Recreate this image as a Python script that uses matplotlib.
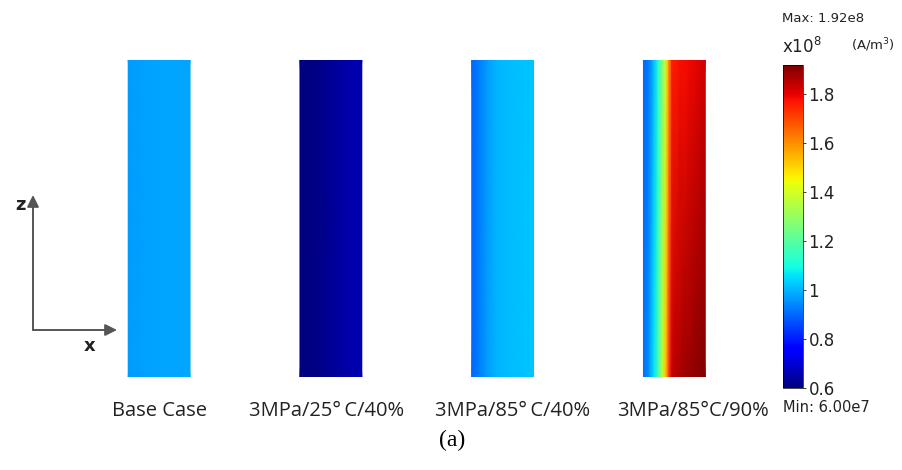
import numpy as np
import matplotlib
matplotlib.use("Agg")
import matplotlib.pyplot as plt
from matplotlib.cm import ScalarMappable
from matplotlib.colors import Normalize
from matplotlib.patches import FancyArrowPatch

# Current density (x10^8 A/m^3) across the width of each membrane section
cases = ["Base Case", "3MPa/25°\u2009C/40%", "3MPa/85°\u2009C/40%", "3MPa/85°C/90%"]
# relative position across the section width (0 = left edge, 1 = right edge)
x_base = [0.0, 0.5, 1.0]
base_top = [0.97, 0.98, 0.98]
base_bottom = [0.97, 0.98, 0.98]

x_25c = [0.0, 0.25, 0.5, 0.75, 1.0]
c25_top = [0.60, 0.61, 0.63, 0.65, 0.66]
c25_bottom = [0.60, 0.61, 0.63, 0.65, 0.66]

x_85c40 = [0.0, 0.1, 0.25, 0.4, 0.6, 1.0]
c85_40_top = [0.90, 0.92, 0.97, 1.00, 1.01, 1.02]
c85_40_bottom = [0.90, 0.92, 0.97, 1.00, 1.01, 1.02]

x_85c90 = [0.0, 0.08, 0.16, 0.24, 0.30, 0.36, 0.41, 0.46, 0.59, 0.75, 1.0]
c85_90_top = [0.90, 0.92, 1.00, 1.12, 1.25, 1.40, 1.58, 1.76, 1.78, 1.79, 1.83]
c85_90_bottom = [0.91, 0.95, 1.05, 1.18, 1.36, 1.53, 1.72, 1.84, 1.87, 1.89, 1.92]

vmin, vmax = 0.60, 1.92
cbar_ticks = [0.6, 0.8, 1.0, 1.2, 1.4, 1.6, 1.8]
cbar_ticklabels = ["0.6", "0.8", "1", "1.2", "1.4", "1.6", "1.8"]

profiles = [
    (x_base, base_top, base_bottom),
    (x_25c, c25_top, c25_bottom),
    (x_85c40, c85_40_top, c85_40_bottom),
    (x_85c90, c85_90_top, c85_90_bottom),
]

W, H = 902, 470
fig = plt.figure(figsize=(W / 100, H / 100), dpi=100)
fig.patch.set_facecolor("white")

cmap = plt.get_cmap("jet")
norm = Normalize(vmin=vmin, vmax=vmax)

# main panel: one unit per case along x, section height 0..1 along z
ax = fig.add_axes([73.25 / W, (H - 377) / H, 687 / W, 317 / H])
ax.set_xlim(-0.5, 3.5)
ax.set_ylim(0, 1)
ax.axis("off")

bar_w = 0.36
for i, (xs, top, bottom) in enumerate(profiles):
    X = i - bar_w / 2 + np.asarray(xs) * bar_w
    Z = np.array([bottom, top])
    ax.pcolormesh(X, [0.0, 1.0], Z, shading="gouraud", cmap=cmap, norm=norm)

label_x = [0.0, 0.972, 2.06, 3.11]
for lx, name in zip(label_x, cases):
    ax.text(lx, -0.108, name, transform=ax.get_xaxis_transform(),
            ha="center", va="center", fontsize=14.5,
            family=["Open Sans", "DejaVu Sans"], color="#222222")

fig.text(452 / W, 1 - 440 / H, "(a)", ha="center", va="center",
         fontsize=17, family="Liberation Serif", color="black")

# coordinate axes glyph
ox, oy = 33 / W, 1 - 330 / H
for end in [(ox, 1 - 195 / H), (117 / W, oy)]:
    fig.add_artist(FancyArrowPatch(
        (ox, oy), end, transform=fig.transFigure,
        arrowstyle="-|>,head_length=7,head_width=3.5", color="#555555",
        lw=1.4, mutation_scale=1, shrinkA=0, shrinkB=0))
fig.text(20 / W, 1 - 205 / H, "z", ha="center", va="center", fontsize=13,
         family="DejaVu Sans", fontweight="bold", color="#222222")
fig.text(90 / W, 1 - 346 / H, "x", ha="center", va="center", fontsize=13,
         family="DejaVu Sans", fontweight="bold", color="#222222")

# colour bar
cax = fig.add_axes([783 / W, (H - 388) / H, 20 / W, 323 / H])
sm = ScalarMappable(norm=norm, cmap=cmap)
cb = fig.colorbar(sm, cax=cax, ticks=cbar_ticks)
cb.ax.set_yticklabels(cbar_ticklabels)
cb.outline.set_linewidth(0.5)
cb.ax.tick_params(length=2, width=0.6, direction="out", pad=2,
                  labelsize=12, colors="#222222")
for t in cb.ax.get_yticklabels():
    t.set_family("DejaVu Sans")

fig.text(782 / W, 1 - 18 / H, "Max: 1.92e8", ha="left", va="center",
         fontsize=9.5, family="DejaVu Sans", color="#222222")
fig.text(782 / W, 1 - 47 / H, r"x10$^{8}$", ha="left", va="center",
         fontsize=12, family="DejaVu Sans", color="#222222")
fig.text(851 / W, 1 - 45 / H, r"(A/m$^{3}$)", ha="left", va="center",
         fontsize=9.5, family="DejaVu Sans", color="#222222")
fig.text(783 / W, 1 - 408 / H, "Min: 6.00e7", ha="left", va="center",
         fontsize=10.5, family="DejaVu Sans", color="#222222")

fig.savefig("out.png", dpi=100, facecolor="white")
